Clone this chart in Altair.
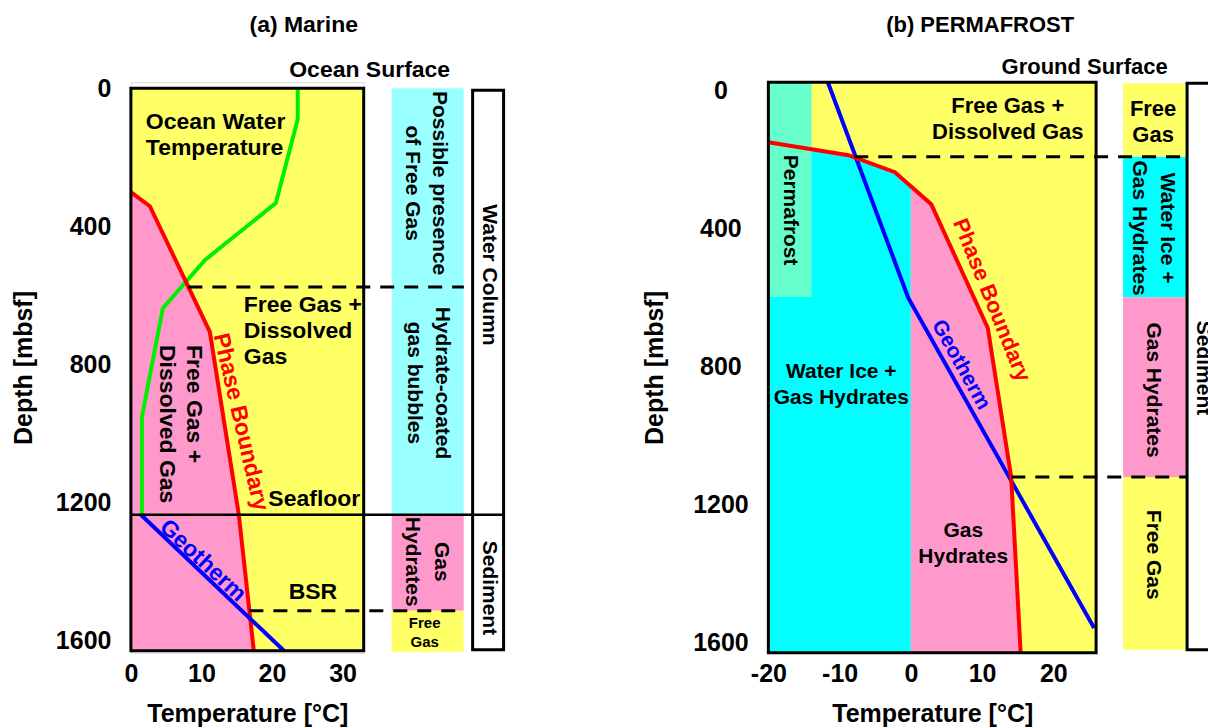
import altair as alt
import pandas as pd

FONT = "Liberation Sans"
YELLOW = "#FFFF66"
PINK = "#FF99CC"
PALE_CYAN = "#99FFFF"
CYAN = "#00FFFF"
MINT = "#66FFCC"
RED = "#FF0000"
GREEN = "#00F000"
BLUE = "#0000FF"

depth_ticks = [0, 400, 800, 1200, 1600]

# ---------------- Panel (a) Marine ----------------
a_T_domain = [0, 33]
a_depth_domain = [-17.4, 1635.8]
a_T_ticks = [0, 10, 20, 30]

a_phase_T = [0.0, 2.69, 11.19, 15.30, 17.42]
a_phase_depth = [301, 342, 706, 1236, 1630]
a_water_T = [23.65, 23.65, 20.54, 10.48, 4.53, 1.56, 1.56]
a_water_depth = [0, 90, 333, 498, 637, 953, 1236]
a_geo_T = [1.42, 21.7]
a_geo_depth = [1236, 1630]

a_frame_T = [0, 33]
a_frame_depth = [0, 1630]
a_seafloor_depth = 1236
a_seafloor_T = [0, 52.83]
a_dash_depth = [576, 1514]
a_dash_T0 = [8.15, 16.8]
a_dash_T1 = [47.2, 47.2]
a_col_T = [36.97, 47.17]
a_col_top = [0, 1236, 1514]
a_col_bottom = [1236, 1514, 1633]
a_col_color = [PALE_CYAN, PINK, YELLOW]
a_box_T = [48.44, 52.83]
a_box_depth = [6, 1627]

a_text_label = ["(a) Marine", "Ocean Surface", "Ocean Water\nTemperature",
                "Free Gas +\nDissolved\nGas", "Free Gas +\nDissolved Gas",
                "Phase Boundary", "Seafloor", "Geotherm", "BSR",
                "Possible presence\nof Free Gas", "Hydrate-coated\ngas bubbles",
                "Gas\nHydrates", "Free\nGas", "Water Column", "Sediment"]
a_text_T = [24.5, 33.85, 2.12, 16.0, 8.92, 15.58, 26.0, 10.2, 25.8,
            43.63, 44.05, 43.9, 41.64, 50.7, 50.7]
a_text_depth = [-182.4, -52, 98.4, 628, 744, 967, 1190, 1369, 1459,
                275, 854, 1372, 1549, 541, 1448]
a_text_angle = [0, 0, 0, 0, 90, 77, 0, 43, 0, 90, 90, 90, 0, 90, 90]
a_text_size = [23, 23, 23, 23, 23, 23, 23, 23, 23, 21, 21, 21, 15, 21, 21]
a_text_color = ["black"] * 5 + [RED, "black", BLUE] + ["black"] * 7
a_text_align = ["center", "center", "left", "left", "left"] + ["center"] * 10
a_text_lh = [26, 26, 26, 26, 27, 26, 26, 26, 26, 27, 28, 29, 19, 26, 26]

# ---------------- Panel (b) Permafrost ----------------
b_T_domain = [-20, 26]
b_depth_domain = [-23, 1630]
b_T_ticks = [-20, -10, 0, 10, 20]

b_phase_T = [-20.0, -8.78, -2.24, 2.86, 10.8, 14.08, 15.41]
b_phase_depth = [150.7, 188.3, 237.6, 330.2, 689, 1120.6, 1630]
b_geo_T = [-11.65, -0.36, 25.72]
b_geo_depth = [-23, 602, 1558]
b_ice_depth = [150.7, 188.3, 237.6, 278.3, 1630]
b_ice_T_right = [-20.0, -8.78, -2.24, 0, 0]
b_hyd_depth = [278.3, 330.2, 689, 1120.6, 1630]
b_hyd_T_right = [0, 2.86, 10.8, 14.08, 15.41]
b_perma_T = [-20, -13.94]
b_perma_depth = [-23, 599.5]

b_frame_T = [-20, 26]
b_frame_depth = [-23, 1630]
b_dash_depth = [193, 1121]
b_dash_T0 = [-7.94, 14.1]
b_dash_T1 = [38.63, 38.63]
b_col_T = [29.79, 38.63]
b_col_top = [-20, 193, 600, 1121]
b_col_bottom = [193, 600, 1121, 1621]
b_col_color = [YELLOW, CYAN, PINK, YELLOW]
b_box_T = [38.77, 42.5]
b_box_depth = [-20, 1621]

b_text_label = ["(b) PERMAFROST", "Ground Surface", "Free Gas +\nDissolved Gas",
                "Permafrost", "Water Ice +\nGas Hydrates", "Gas\nHydrates",
                "Phase Boundary", "Geotherm", "Free\nGas",
                "Water Ice +\nGas Hydrates", "Gas Hydrates", "Free Gas", "Sediment"]
b_text_T = [9.73, 24.39, 13.6, -16.9, -9.76, 7.35, 11.35, 7.0, 34.0,
            35.96, 34.0, 34.0, 41.0]
b_text_depth = [-188, -66.4, 46.5, 347.6, 816.6, 1277, 608, 796, 55.2,
                399.7, 868.7, 1346, 805]
b_text_angle = [0, 0, 0, 90, 0, 0, 68, 61, 0, 90, 90, 90, 90]
b_text_size = [22, 22, 22, 21, 21, 21, 22, 21, 22, 21, 21, 21, 21]
b_text_color = ["black"] * 6 + [RED, BLUE] + ["black"] * 5
b_text_lh = [26, 26, 26, 26, 26, 26, 26, 26, 26, 28, 26, 26, 26]


def panel(width, height, T_domain, depth_domain, T_ticks, y_label_align, y_label_pad,
          y_title_pad, layers_fn):
    xs = alt.Scale(domain=T_domain, nice=False, zero=False)
    ys = alt.Scale(domain=depth_domain, nice=False, zero=False, reverse=True)
    x_axis = alt.Axis(values=T_ticks, title="Temperature [°C]", ticks=False, domain=False,
                      grid=False, labelFontSize=25, labelFontWeight="bold", labelFont=FONT,
                      titleFontSize=25, titleFontWeight="bold", titleFont=FONT,
                      labelColor="black", titleColor="black", labelPadding=9,
                      titlePadding=15, labelOverlap=False, labelFlush=False,
                      labelExpr="'' + datum.value")
    y_axis = alt.Axis(values=depth_ticks, title="Depth [mbsf]", ticks=False, domain=False,
                      grid=False, labelFontSize=25, labelFontWeight="bold", labelFont=FONT,
                      titleFontSize=25, titleFontWeight="bold", titleFont=FONT,
                      labelColor="black", titleColor="black", labelPadding=y_label_pad,
                      labelAlign=y_label_align, titlePadding=y_title_pad,
                      labelOverlap=False, labelFlush=False,
                      labelExpr="'' + datum.value")

    def X(field="T"):
        return alt.X(f"{field}:Q", scale=xs, axis=x_axis, title="Temperature [°C]")

    def Y(field="d"):
        return alt.Y(f"{field}:Q", scale=ys, axis=y_axis, title="Depth [mbsf]")

    layers = layers_fn(X, Y)
    return alt.layer(*layers).properties(width=width, height=height)


def rect_layer(X, Y, T0, T1, d0, d1, colors, stroke=None, sw=0):
    df = pd.DataFrame({"T": T0, "T2": T1, "d": d0, "d2": d1, "c": colors})
    kw = dict(strokeWidth=sw)
    if stroke:
        kw["stroke"] = stroke
    return alt.Chart(df).mark_rect(**kw).encode(
        x=X(), x2="T2:Q", y=Y(), y2="d2:Q", color=alt.Color("c:N", scale=None))


def frame_layer(X, Y, T, d):
    df = pd.DataFrame({"T": [T[0]], "T2": [T[1]], "d": [d[0]], "d2": [d[1]]})
    return alt.Chart(df).mark_rect(fillOpacity=0, stroke="black", strokeWidth=3).encode(
        x=X(), x2="T2:Q", y=Y(), y2="d2:Q")


def hline_layer(X, Y, T0, T1, d, dashed=True, sw=3):
    df = pd.DataFrame({"T": T0, "T2": T1, "d": d})
    kw = dict(color="black", strokeWidth=sw)
    if dashed:
        kw["strokeDash"] = [14, 10]
    return alt.Chart(df).mark_rule(**kw).encode(x=X(), x2="T2:Q", y=Y())


def curve_layer(X, Y, T, d, color, sw=4):
    df = pd.DataFrame({"T": T, "d": d, "i": list(range(len(T)))})
    return alt.Chart(df).mark_line(color=color, strokeWidth=sw, strokeJoin="miter").encode(
        x=X(), y=Y(), order=alt.Order("i:Q"))


def harea_layer(X, Y, d, T_left, T_right, color):
    df = pd.DataFrame({"d": d, "T": T_left, "T2": T_right})
    return alt.Chart(df).mark_area(orient="horizontal", color=color, opacity=1).encode(
        y=Y(), x=X(), x2="T2:Q")


def text_layers(X, Y, labels, Ts, ds, angles, sizes, colors, aligns, lhs):
    out = []
    for lab, t, d, ang, sz, col, al, lh in zip(labels, Ts, ds, angles, sizes, colors, aligns, lhs):
        df = pd.DataFrame({"T": [t], "d": [d], "label": [lab]})
        out.append(alt.Chart(df).mark_text(
            font=FONT, fontWeight="bold", fontSize=sz, angle=ang, color=col, align=al,
            baseline="middle", lineBreak="\n", lineHeight=lh).encode(
            x=X(), y=Y(), text="label:N"))
    return out


def a_layers(X, Y):
    L = []
    L.append(rect_layer(X, Y, [a_frame_T[0]], [a_frame_T[1]], [a_frame_depth[0]],
                        [a_frame_depth[1]], [YELLOW]))
    L.append(harea_layer(X, Y, a_phase_depth, [0] * len(a_phase_depth), a_phase_T, PINK))
    L.append(rect_layer(X, Y, [a_col_T[0]] * 3, [a_col_T[1]] * 3, a_col_top, a_col_bottom,
                        a_col_color))
    L.append(rect_layer(X, Y, [a_box_T[0]], [a_box_T[1]], [a_box_depth[0]], [a_box_depth[1]],
                        ["white"], stroke="black", sw=3))
    L.append(curve_layer(X, Y, a_water_T, a_water_depth, GREEN))
    L.append(curve_layer(X, Y, a_phase_T, a_phase_depth, RED))
    L.append(curve_layer(X, Y, a_geo_T, a_geo_depth, BLUE))
    L.append(hline_layer(X, Y, [a_seafloor_T[0]], [a_seafloor_T[1]], [a_seafloor_depth],
                         dashed=False, sw=2.5))
    L.append(hline_layer(X, Y, a_dash_T0, a_dash_T1, a_dash_depth))
    L.append(frame_layer(X, Y, a_frame_T, a_frame_depth))
    L += text_layers(X, Y, a_text_label, a_text_T, a_text_depth, a_text_angle, a_text_size,
                     a_text_color, a_text_align, a_text_lh)
    return L


def b_layers(X, Y):
    L = []
    L.append(rect_layer(X, Y, [b_frame_T[0]], [b_frame_T[1]], [b_frame_depth[0]],
                        [b_frame_depth[1]], [YELLOW]))
    L.append(harea_layer(X, Y, b_ice_depth, [-20] * len(b_ice_depth), b_ice_T_right, CYAN))
    L.append(harea_layer(X, Y, b_hyd_depth, [0] * len(b_hyd_depth), b_hyd_T_right, PINK))
    L.append(rect_layer(X, Y, [b_perma_T[0]], [b_perma_T[1]], [b_perma_depth[0]],
                        [b_perma_depth[1]], [MINT]))
    L.append(rect_layer(X, Y, [b_col_T[0]] * 4, [b_col_T[1]] * 4, b_col_top, b_col_bottom,
                        b_col_color))
    L.append(rect_layer(X, Y, [b_box_T[0]], [b_box_T[1]], [b_box_depth[0]], [b_box_depth[1]],
                        ["white"], stroke="black", sw=3))
    L.append(curve_layer(X, Y, b_geo_T, b_geo_depth, BLUE))
    L.append(curve_layer(X, Y, b_phase_T, b_phase_depth, RED))
    L.append(hline_layer(X, Y, b_dash_T0, b_dash_T1, b_dash_depth))
    L.append(frame_layer(X, Y, b_frame_T, b_frame_depth))
    L += text_layers(X, Y, b_text_label, b_text_T, b_text_depth, b_text_angle, b_text_size,
                     b_text_color, ["center"] * len(b_text_label), b_text_lh)
    return L


left = panel(233, 571, a_T_domain, a_depth_domain, a_T_ticks, "right", 20, 19, a_layers)
right = panel(328, 571, b_T_domain, b_depth_domain, b_T_ticks, "center", 48, 25, b_layers)

chart = alt.hconcat(left, right, spacing=405, bounds="flush").properties(
    padding={"left": 10, "top": 13, "right": -8, "bottom": 0}
).configure_view(strokeWidth=0).configure(font=FONT, background="white")

chart.save("out.html", embed_options={"renderer": "svg", "actions": False})
